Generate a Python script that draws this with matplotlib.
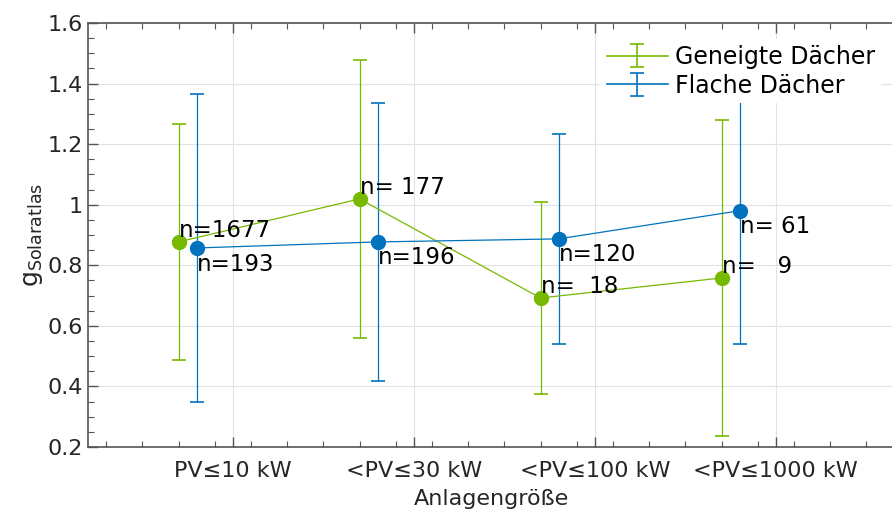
import numpy as np
import matplotlib
matplotlib.use("Agg")
import matplotlib.pyplot as plt
from matplotlib.ticker import MultipleLocator

# Daten
klassen = ["PV\u226410 kW", "<PV\u226430 kW", "<PV\u2264100 kW", "<PV\u22641000 kW"]
geneigt_mittel = [0.877, 1.019, 0.692, 0.758]
geneigt_std = [0.390, 0.459, 0.318, 0.522]
geneigt_n = [1677, 177, 18, 9]
flach_mittel = [0.857, 0.877, 0.887, 0.980]
flach_std = [0.507, 0.459, 0.347, 0.439]
flach_n = [193, 196, 120, 61]

gruen = "#77b900"
blau = "#0072bd"
textgrau = "#262626"

plt.rcParams["font.family"] = ["DejaVu Sans"]
plt.rcParams["font.size"] = 16

fig = plt.figure(figsize=(8.92, 5.14), dpi=100)
ax = fig.add_axes([0.0987, 0.1304, 0.905, 0.825])

x = np.arange(1, len(klassen) + 1)

ax.errorbar(x, geneigt_mittel, yerr=geneigt_std, fmt="-o", color=gruen,
            lw=0.9, elinewidth=0.9, capsize=5, capthick=1.2, markersize=10, zorder=3)
ax.errorbar(x + 0.1, flach_mittel, yerr=flach_std, fmt="-o", color=blau,
            lw=0.9, elinewidth=0.9, capsize=5, capthick=1.2, markersize=10, zorder=3)

# Legenden-Symbole ohne Marker
h_g = ax.errorbar([np.nan], [np.nan], yerr=[np.nan], fmt="-", color=gruen,
                  lw=1.2, elinewidth=1.2, capsize=5, capthick=1.2)
h_f = ax.errorbar([np.nan], [np.nan], yerr=[np.nan], fmt="-", color=blau,
                  lw=1.2, elinewidth=1.2, capsize=5, capthick=1.2)

# n-Beschriftungen
w_g = max(len(str(n)) for n in geneigt_n)
for xi, yi, n in zip(x, geneigt_mittel, geneigt_n):
    ax.text(xi, yi, f"n={n:>{w_g}}", ha="left", va="bottom", fontsize=16.5, color="black", zorder=5)
w_f = max(len(str(n)) for n in flach_n)
for xi, yi, n in zip(x + 0.1, flach_mittel, flach_n):
    ax.text(xi, yi - 0.015, f"n={n:>{w_f}}", ha="left", va="top", fontsize=16.5, color="black", zorder=5)

ax.set_xlim(0.5, 4.96)
ax.set_ylim(0.2, 1.6)
ax.set_xticks(x + 0.3)
ax.set_xticklabels(klassen)
ax.set_yticks(np.arange(0.2, 1.61, 0.2))
ax.set_yticklabels(["0.2", "0.4", "0.6", "0.8", "1", "1.2", "1.4", "1.6"])
ax.xaxis.set_minor_locator(MultipleLocator(0.2))
ax.yaxis.set_minor_locator(MultipleLocator(0.05))

ax.tick_params(which="both", direction="in", top=True, right=False, colors="#555555",
               labelcolor=textgrau, labelsize=16)
ax.tick_params(which="major", length=7, width=1)
ax.tick_params(which="minor", length=4, width=0.8)
ax.tick_params(axis="x", pad=10)

for s in ["left", "bottom", "top"]:
    ax.spines[s].set_color("#555555")
    ax.spines[s].set_linewidth(1.2)
ax.spines["right"].set_visible(False)

ax.grid(True, which="major", color="#e2e2e2", lw=0.8)
ax.set_axisbelow(True)

ax.set_xlabel("Anlagengröße", color=textgrau, fontsize=16, labelpad=6)
ax.set_ylabel(r"$\mathregular{g_{Solaratlas}}$", color=textgrau, fontsize=18, labelpad=2)

leg = ax.legend([h_g, h_f], ["Geneigte Dächer", "Flache Dächer"], loc="upper right",
                bbox_to_anchor=(0.997, 0.99), frameon=True,
                fancybox=False, edgecolor="none", facecolor="white", framealpha=1,
                fontsize=17, handlelength=2.6, handletextpad=0.3, labelspacing=0.2,
                borderpad=0.25)
leg.set_zorder(10)

fig.savefig("out.png", dpi=100)
